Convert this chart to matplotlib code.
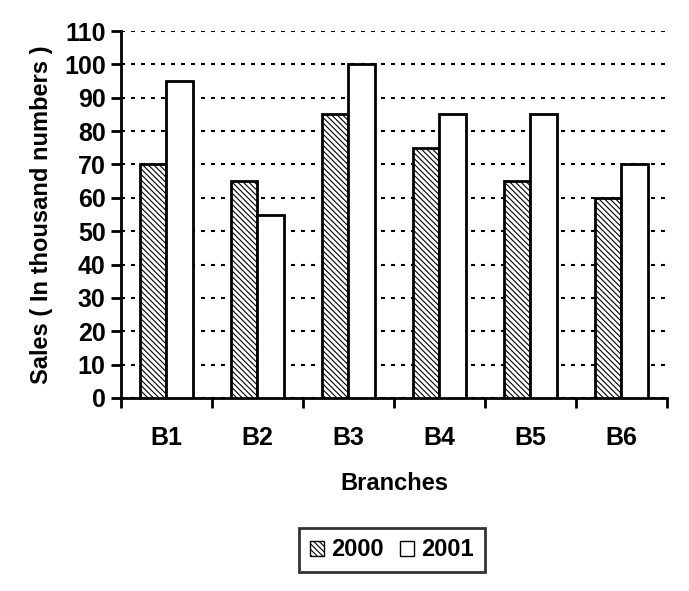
import matplotlib.pyplot as plt
import numpy as np
from matplotlib import rcParams
from matplotlib.patches import Patch

rcParams['font.family'] = ['Liberation Sans', 'DejaVu Sans']
rcParams['font.weight'] = 'bold'
rcParams['axes.labelweight'] = 'bold'
rcParams['hatch.linewidth'] = 0.8

# data
branches = ['B1', 'B2', 'B3', 'B4', 'B5', 'B6']
sales_2000 = [70, 65, 85, 75, 65, 60]
sales_2001 = [95, 55, 100, 85, 85, 70]

fig = plt.figure(figsize=(6.89, 5.91), dpi=100)
ax = fig.add_axes([0.1756, 0.3266, 0.7924, 0.6209])

x = np.arange(len(branches))
w = 0.29

ax.bar(x - w / 2, sales_2000, w, color='white', edgecolor='black',
       linewidth=2, hatch='\\\\\\\\\\\\', label='2000', zorder=3)
ax.bar(x + w / 2, sales_2001, w, color='white', edgecolor='black',
       linewidth=2, label='2001', zorder=3)

ax.set_xlim(-0.5, len(branches) - 0.5)
ax.set_ylim(0, 110)
ax.set_yticks(np.arange(0, 111, 10))

# category labels between boundary ticks
ax.set_xticks(np.arange(-0.5, len(branches), 1))
ax.set_xticklabels([])
ax.set_xticks(x, minor=True)
ax.set_xticklabels(branches, minor=True)
ax.tick_params(axis='x', which='minor', length=0, pad=20, labelsize=18)
ax.tick_params(axis='x', which='major', direction='out', length=7, width=2)
ax.tick_params(axis='y', direction='out', length=7, width=2, labelsize=18, pad=4)

for s in ['top', 'right']:
    ax.spines[s].set_visible(False)
for s in ['left', 'bottom']:
    ax.spines[s].set_linewidth(2)

ax.yaxis.grid(True, linestyle=(0, (1.9, 2.9)), color='black', linewidth=1.5, zorder=0)
ax.set_axisbelow(True)

ax.set_xlabel('Branches', fontsize=17, labelpad=16)
ax.set_ylabel('Sales ( In thousand numbers )', fontsize=17, labelpad=8)

handles = [Patch(facecolor='white', edgecolor='black', hatch='\\\\\\\\\\\\', label='2000'),
           Patch(facecolor='white', edgecolor='black', label='2001')]
leg = fig.legend(handles=handles, loc='center', bbox_to_anchor=(392 / 689, 1 - 550 / 591),
                 ncol=2, fontsize=17, frameon=True, fancybox=False, edgecolor='black',
                 handlelength=0.6, handleheight=0.6, handletextpad=0.3, columnspacing=0.7,
                 borderpad=0.45)
leg.get_frame().set_linewidth(2)

plt.savefig('out.png', dpi=100)
